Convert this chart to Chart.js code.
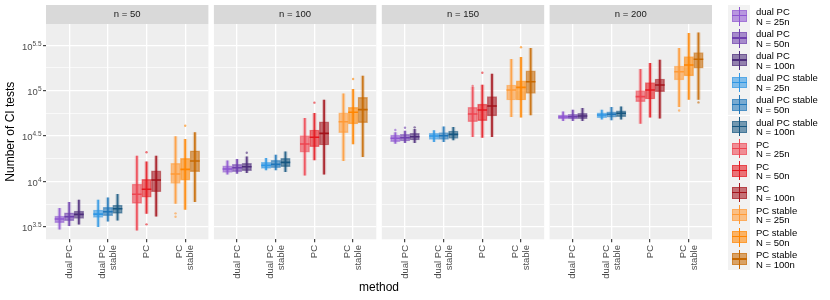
<!DOCTYPE html>
<html>
<head>
<meta charset="utf-8">
<script src="https://cdn.jsdelivr.net/npm/chart.js@4.4.1/dist/chart.umd.min.js"></script>
<style>
body { margin: 0; background: #fff; }
#wrap { position: relative; width: 830px; height: 300px; font-family: "Liberation Sans", Arial, sans-serif; }
#wrap canvas { position: absolute; left: 0; top: 0; }
.key { position: absolute; left: 728px; width: 22px; background: #F2F2F2; }
.lab { position: absolute; left: 756px; font-size: 9.5px; line-height: 9.5px; color: #000; white-space: nowrap; }
</style>
</head>
<body>
<div id="wrap"></div>
<script>
var facetLabels = ['n = 50', 'n = 100', 'n = 150', 'n = 200'];
var methodLabels = [['dual PC'], ['dual PC', 'stable'], ['PC'], ['PC', 'stable']];
var groupMethods = ['dual PC', 'dual PC', 'dual PC', 'dual PC stable', 'dual PC stable', 'dual PC stable',
                    'PC', 'PC', 'PC', 'PC stable', 'PC stable', 'PC stable'];
var groupSizes = ['N = 25n', 'N = 50n', 'N = 100n', 'N = 25n', 'N = 50n', 'N = 100n',
                  'N = 25n', 'N = 50n', 'N = 100n', 'N = 25n', 'N = 50n', 'N = 100n'];
var colors = ['#8E55D0', '#6E3FAE', '#4C2C7A', '#2E96E4', '#1F75B8', '#165680',
              '#EE4450', '#E4161E', '#A3121A', '#FF9A36', '#FF8500', '#C76800'];
var yTicks = [3.5, 4, 4.5, 5, 5.5];
var yMinorTicks = [3.75, 4.25, 4.75, 5.25];

// log10(number of CI tests); one row per facet, 12 groups (method x N) per row
var whiskerLow = [
  [3.474, 3.510, 3.529, 3.499, 3.562, 3.573, 3.463, 3.647, 3.617, 3.757, 3.691, 3.775],
  [4.080, 4.088, 4.095, 4.125, 4.125, 4.106, 4.069, 4.235, 4.080, 4.227, 4.411, 4.271],
  [4.419, 4.426, 4.426, 4.437, 4.437, 4.455, 4.492, 4.485, 4.492, 4.712, 4.706, 4.731],
  [4.668, 4.668, 4.668, 4.684, 4.676, 4.684, 4.639, 4.706, 4.695, 4.822, 4.904, 4.904]
];
var boxLow = [
  [3.544, 3.566, 3.592, 3.603, 3.621, 3.647, 3.757, 3.824, 3.885, 3.978, 4.014, 4.106],
  [4.099, 4.106, 4.117, 4.143, 4.150, 4.161, 4.320, 4.381, 4.400, 4.536, 4.632, 4.646],
  [4.437, 4.444, 4.455, 4.463, 4.463, 4.474, 4.657, 4.668, 4.720, 4.896, 4.896, 4.970],
  [4.687, 4.687, 4.690, 4.701, 4.706, 4.712, 4.878, 4.907, 4.988, 5.117, 5.161, 5.246]
];
var median = [
  [3.584, 3.610, 3.636, 3.639, 3.665, 3.698, 3.857, 3.912, 4.014, 4.080, 4.132, 4.224],
  [4.136, 4.150, 4.161, 4.176, 4.187, 4.209, 4.411, 4.485, 4.529, 4.657, 4.761, 4.790],
  [4.474, 4.481, 4.492, 4.499, 4.503, 4.518, 4.742, 4.786, 4.830, 5.007, 5.036, 5.098],
  [4.709, 4.712, 4.720, 4.731, 4.739, 4.750, 4.933, 5.007, 5.062, 5.208, 5.282, 5.345]
];
var boxHigh = [
  [3.617, 3.653, 3.672, 3.684, 3.713, 3.739, 3.970, 4.022, 4.117, 4.198, 4.254, 4.337],
  [4.172, 4.187, 4.198, 4.209, 4.232, 4.254, 4.503, 4.566, 4.657, 4.756, 4.816, 4.926],
  [4.510, 4.518, 4.529, 4.529, 4.536, 4.555, 4.816, 4.852, 4.933, 5.062, 5.109, 5.219],
  [4.731, 4.739, 4.750, 4.756, 4.767, 4.778, 4.999, 5.087, 5.128, 5.271, 5.374, 5.418]
];
var whiskerHigh = [
  [3.702, 3.768, 3.794, 3.794, 3.819, 3.857, 4.279, 4.216, 4.279, 4.492, 4.463, 4.536],
  [4.227, 4.243, 4.271, 4.254, 4.290, 4.326, 4.695, 4.750, 4.896, 4.963, 5.014, 5.161],
  [4.536, 4.555, 4.573, 4.558, 4.602, 4.595, 5.036, 5.062, 5.183, 5.345, 5.367, 5.466],
  [4.767, 4.786, 4.805, 4.786, 4.816, 4.822, 5.235, 5.301, 5.337, 5.466, 5.632, 5.638]
];
// outliers: [group index, log10 value]
var outliers = [
  [[7, 4.320], [7, 3.526], [9, 3.647], [9, 3.610], [10, 4.613]],
  [[2, 4.315], [7, 4.867], [10, 5.128]],
  [[0, 4.565], [1, 4.591], [2, 4.595], [6, 5.050], [7, 5.197], [10, 5.477]],
  [[9, 4.780], [11, 4.870]]
];

var FONT = '"Liberation Sans", Arial, sans-serif';
var panelLefts = [46, 213.9, 381.8, 549.6];
var panelWidth = 162.4;
var panelTop = 24, panelBottom = 239.3;

function alpha(hex, a) {
  var r = parseInt(hex.substr(1, 2), 16), g = parseInt(hex.substr(3, 2), 16), b = parseInt(hex.substr(5, 2), 16);
  return 'rgba(' + r + ',' + g + ',' + b + ',' + a + ')';
}
function groupX(g) {
  return Math.floor(g / 3) + 1 + (g % 3 - 1) * 0.25;
}

// panel background, strip, and axis texts
var panelPlugin = {
  id: 'panel',
  beforeDraw: function (chart, args, opts) {
    var a = chart.chartArea, ctx = chart.ctx;
    ctx.save();
    ctx.fillStyle = '#EEEEEE';
    ctx.fillRect(a.left, a.top, a.right - a.left, a.bottom - a.top);
    ctx.fillStyle = '#D9D9D9';
    ctx.fillRect(a.left, 5, a.right - a.left, a.top - 5);
    ctx.fillStyle = '#1A1A1A';
    ctx.font = '9.5px ' + FONT;
    ctx.textAlign = 'center';
    ctx.textBaseline = 'middle';
    ctx.fillText(opts.label, (a.left + a.right) / 2, (5 + a.top) / 2);
    ctx.restore();
  },
  afterDraw: function (chart, args, opts) {
    var ctx = chart.ctx, xs = chart.scales.x, ys = chart.scales.y;
    ctx.save();
    ctx.fillStyle = '#4D4D4D';
    ctx.font = '9.5px ' + FONT;
    ctx.textAlign = 'right';
    ctx.textBaseline = 'middle';
    for (var m = 0; m < methodLabels.length; m++) {
      var px = xs.getPixelForValue(m + 1), lines = methodLabels[m];
      for (var j = 0; j < lines.length; j++) {
        ctx.save();
        ctx.translate(px + (j - (lines.length - 1) / 2) * 11, 245);
        ctx.rotate(-Math.PI / 2);
        ctx.fillText(lines[j], 0, 0);
        ctx.restore();
      }
    }
    if (opts.showY) {
      for (var i = 0; i < yTicks.length; i++) {
        var py = ys.getPixelForValue(yTicks[i]);
        var ex = String(yTicks[i]);
        ctx.font = '6.5px ' + FONT;
        ctx.textBaseline = 'alphabetic';
        ctx.textAlign = 'left';
        var we = ctx.measureText(ex).width;
        ctx.fillText(ex, 41.5 - we, py + 0.5);
        ctx.font = '9.5px ' + FONT;
        ctx.textAlign = 'right';
        ctx.fillText('10', 41.5 - we, py + 4.5);
      }
      ctx.fillStyle = '#000';
      ctx.font = '12px ' + FONT;
      ctx.textAlign = 'center';
      ctx.textBaseline = 'middle';
      ctx.save();
      ctx.translate(10.5, (panelTop + panelBottom) / 2);
      ctx.rotate(-Math.PI / 2);
      ctx.fillText('Number of CI tests', 0, 0);
      ctx.restore();
      ctx.fillText('method', (panelLefts[0] + panelLefts[3] + panelWidth) / 2, 288);
    }
    ctx.restore();
  }
};

var wrap = document.getElementById('wrap');

function makeFacet(f) {
  var canvas = document.createElement('canvas');
  canvas.width = 830;
  canvas.height = 300;
  wrap.appendChild(canvas);

  var boxData = [], whiskerData = [], bandData = [], medianData = [];
  for (var g = 0; g < 12; g++) {
    boxData.push({x: groupX(g), y: [boxLow[f][g], boxHigh[f][g]]});
    whiskerData.push({x: groupX(g), y: [whiskerLow[f][g], whiskerHigh[f][g]]});
    bandData.push({x: groupX(g), y: [whiskerLow[f][g], whiskerHigh[f][g]]});
    medianData.push({x: groupX(g), y: median[f][g]});
  }
  var outData = outliers[f].map(function (o) { return {x: groupX(o[0]), y: o[1]}; });
  var outColors = outliers[f].map(function (o) { return alpha(colors[o[0]], 0.6); });
  var showY = f === 0;
  var allY = yTicks.concat(yMinorTicks).sort(function (a, b) { return a - b; });

  new Chart(canvas, {
    type: 'bar',
    data: {
      datasets: [
        {type: 'scatter', data: outData, pointRadius: 1.2, pointBackgroundColor: outColors, pointBorderWidth: 0, order: 0},
        {type: 'scatter', data: medianData, pointStyle: 'line', pointRadius: 4.8,
         pointBorderColor: colors, pointBorderWidth: 1.6, order: 1},
        {data: boxData, barThickness: 9.6, grouped: false, borderSkipped: false, borderWidth: 0.8,
         backgroundColor: colors.map(function (c) { return alpha(c, 0.58); }),
         borderColor: colors.map(function (c) { return alpha(c, 0.5); }), order: 2},
        {data: whiskerData, barThickness: 1.2, grouped: false,
         backgroundColor: colors.map(function (c) { return alpha(c, 0.85); }), order: 3},
        {data: bandData, barThickness: 3.5, grouped: false,
         backgroundColor: colors.map(function (c) { return alpha(c, 0.22); }), order: 4}
      ]
    },
    options: {
      responsive: false,
      animation: false,
      events: [],
      layout: {padding: {left: panelLefts[f], right: 830 - panelLefts[f] - panelWidth, top: panelTop, bottom: 300 - panelBottom}},
      plugins: {
        legend: {display: false},
        tooltip: {enabled: false},
        panel: {label: facetLabels[f], showY: showY}
      },
      scales: {
        x: {
          type: 'linear', min: 0.4, max: 4.6, offset: false,
          afterBuildTicks: function (ax) { ax.ticks = [1, 2, 3, 4].map(function (v) { return {value: v}; }); },
          afterFit: function (ax) { ax.height = 0; },
          ticks: {display: false},
          border: {display: false},
          grid: {offset: false, color: '#FFFFFF', lineWidth: 1.3, tickLength: 3, tickColor: '#333333', tickWidth: 1.1}
        },
        y: {
          type: 'linear', min: 3.361, max: 5.734,
          afterBuildTicks: function (ax) { ax.ticks = allY.map(function (v) { return {value: v}; }); },
          afterFit: function (ax) { ax.width = 0; },
          ticks: {display: false},
          border: {display: false},
          grid: {
            color: '#FFFFFF',
            lineWidth: function (c) { return yTicks.indexOf(c.tick.value) >= 0 ? 1.3 : 0.65; },
            tickLength: 3,
            tickWidth: 1.1,
            tickColor: function (c) { return showY && yTicks.indexOf(c.tick.value) >= 0 ? '#333333' : 'rgba(0,0,0,0)'; }
          }
        }
      }
    },
    plugins: [panelPlugin]
  });
}

for (var f = 0; f < facetLabels.length; f++) makeFacet(f);

// legend
for (var i = 0; i < colors.length; i++) {
  var rowTop = 5 + 22.1 * i;
  var key = document.createElement('div');
  key.className = 'key';
  key.style.top = rowTop + 'px';
  key.style.height = '22.1px';
  key.innerHTML =
    '<div style="position:absolute;left:10.5px;top:1.5px;width:1px;height:19px;background:' + colors[i] + '"></div>' +
    '<div style="position:absolute;left:3.5px;top:5.3px;width:13.4px;height:9.9px;border:0.8px solid ' + alpha(colors[i], 0.5) +
    ';background:' + alpha(colors[i], 0.58) + '"></div>' +
    '<div style="position:absolute;left:3.5px;top:10.3px;width:15px;height:1.2px;background:' + colors[i] + '"></div>';
  wrap.appendChild(key);
  var lab = document.createElement('div');
  lab.className = 'lab';
  lab.style.top = (rowTop + 2) + 'px';
  lab.innerHTML = groupMethods[i] + '<br>' + groupSizes[i];
  wrap.appendChild(lab);
}
</script>
</body>
</html>
